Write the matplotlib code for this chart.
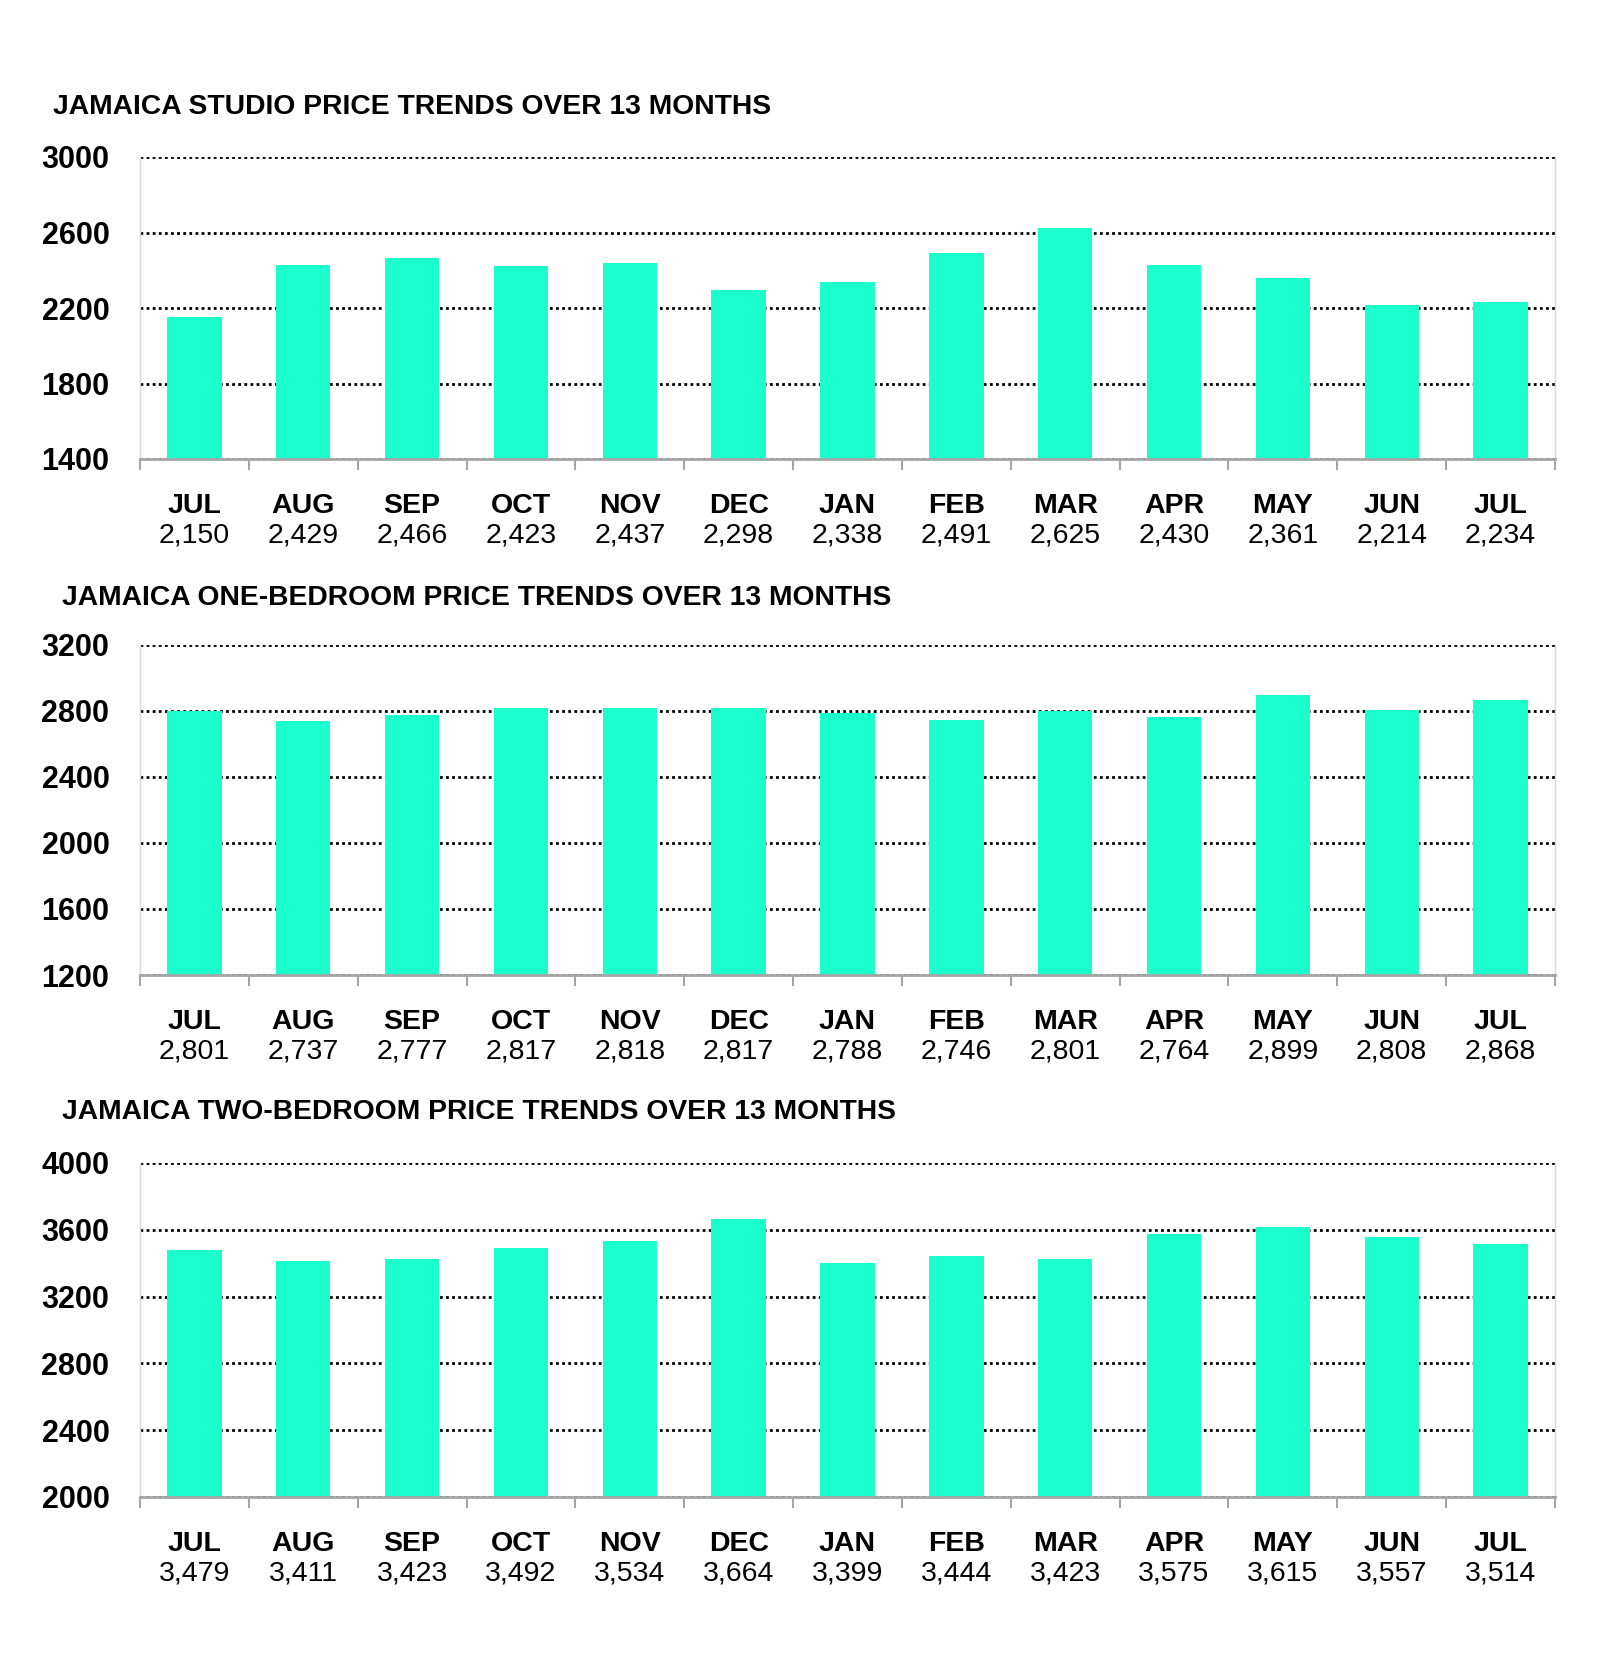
import matplotlib
matplotlib.use('Agg')
import matplotlib.pyplot as plt
from matplotlib.ticker import FixedLocator

# Data
months = ['JUL', 'AUG', 'SEP', 'OCT', 'NOV', 'DEC', 'JAN', 'FEB', 'MAR', 'APR', 'MAY', 'JUN', 'JUL']
studio = [2150, 2429, 2466, 2423, 2437, 2298, 2338, 2491, 2625, 2430, 2361, 2214, 2234]
one_bed = [2801, 2737, 2777, 2817, 2818, 2817, 2788, 2746, 2801, 2764, 2899, 2808, 2868]
two_bed = [3479, 3411, 3423, 3492, 3534, 3664, 3399, 3444, 3423, 3575, 3615, 3557, 3514]
titles = ['JAMAICA STUDIO PRICE TRENDS OVER 13 MONTHS',
          'JAMAICA ONE-BEDROOM PRICE TRENDS OVER 13 MONTHS',
          'JAMAICA TWO-BEDROOM PRICE TRENDS OVER 13 MONTHS']
y_ranges = [(1400, 3000), (1200, 3200), (2000, 4000)]
y_step = 400

bar_color = '#1affcc'
narrow = ['Liberation Sans Narrow', 'Liberation Sans', 'DejaVu Sans']
regular = ['Liberation Sans', 'DejaVu Sans']

W, H = 1600, 1678
fig = plt.figure(figsize=(W / 100, H / 100), dpi=100, facecolor='w')

# axes boxes in pixels: (top, bottom), title (x, y)
boxes = [(157, 459), (645, 975), (1163, 1497)]
title_pos = [(53, 107), (62, 598), (62, 1112)]
left_px, right_px = 140, 1555

for i, series in enumerate([studio, one_bed, two_bed]):
    top, bot = boxes[i]
    ax = fig.add_axes([left_px / W, 1 - bot / H, (right_px - left_px) / W, (bot - top) / H])
    x = range(len(months))
    ax.bar(x, series, width=0.5, color=bar_color, zorder=3)

    lo, hi = y_ranges[i]
    ax.set_ylim(lo, hi)
    ax.set_xlim(-0.5, len(months) - 0.5)
    ax.set_yticks(list(range(lo, hi + 1, y_step)))
    ax.grid(axis='y', color='black', linestyle=(0, (1, 1.2)), linewidth=2.0, zorder=1)

    for s in ['left', 'right']:
        ax.spines[s].set_color('#d9d9d9')
        ax.spines[s].set_linewidth(1.0)
    ax.spines['top'].set_visible(False)
    ax.spines['bottom'].set_color('#a6a6a6')
    ax.spines['bottom'].set_linewidth(2)
    ax.spines['bottom'].set_zorder(4)

    ax.set_xticks([])
    ax.xaxis.set_minor_locator(FixedLocator([k - 0.5 for k in range(len(months) + 1)]))
    ax.tick_params(axis='x', which='minor', length=8, width=1.5, color='#a6a6a6', direction='out')
    ax.tick_params(axis='y', length=0, pad=22)
    for lab in ax.get_yticklabels():
        lab.set_family(narrow)
        lab.set_fontweight('bold')
        lab.set_fontsize(22)

    for k, (m, v) in enumerate(zip(months, series)):
        ax.annotate(m, xy=(k, 0), xycoords=('data', 'axes fraction'), xytext=(0, -47),
                    textcoords='offset pixels', ha='center', va='center',
                    fontsize=20.5, fontweight='bold', family=regular)
        ax.annotate(f'{v:,}', xy=(k, 0), xycoords=('data', 'axes fraction'), xytext=(0, -77),
                    textcoords='offset pixels', ha='center', va='center',
                    fontsize=20.5, family=regular)

    tx, ty = title_pos[i]
    fig.text(tx / W, 1 - ty / H, titles[i], ha='left', va='center',
             fontsize=20.3, fontweight='bold', family=narrow)

plt.savefig('out.png', dpi=100, facecolor='w')
